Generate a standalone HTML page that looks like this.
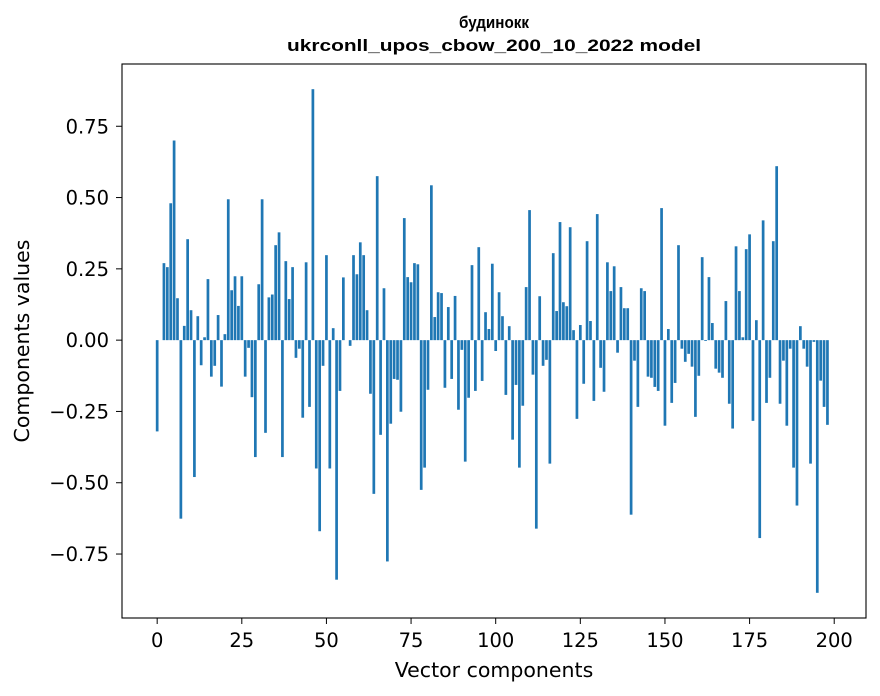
<!DOCTYPE html>
<html><head><meta charset="utf-8"><style>
html,body{margin:0;padding:0;background:#fff;}
svg{display:block;font-family:"DejaVu Sans","Liberation Sans",sans-serif;}
</style></head><body>
<svg id="chart" width="880" height="696" viewBox="0 0 880 696">
<text x="494" y="28" text-anchor="middle" font-family="Liberation Sans, sans-serif" font-weight="bold" font-size="17" textLength="70" lengthAdjust="spacingAndGlyphs">будинокк</text>
<text x="494" y="51" text-anchor="middle" font-family="Liberation Sans, sans-serif" font-weight="bold" font-size="17" textLength="414" lengthAdjust="spacingAndGlyphs">ukrconll_upos_cbow_200_10_2022 model</text>
<g id="bars"></g>
<g id="axes"></g>
<text x="494" y="677" text-anchor="middle" font-size="20.5">Vector components</text>
<text transform="translate(29,341) rotate(-90)" text-anchor="middle" font-size="20.5">Components values</text>
</svg>
<script>
const values1 = [-0.32,0,0.27,0.256,0.48,0.70,0.147,-0.626,0.05,0.354,0.105,-0.48,0.084,-0.088,0.01,0.214,-0.128,-0.09,0.088,-0.163,0.021,0.494,0.175,0.224,0.12,0.224,-0.128,-0.027,-0.2,-0.41,0.196,0.494,-0.325,0.15,0.16,0.333,0.378,-0.41,0.277,0.144,0.256,-0.062,-0.03,-0.272,0.273,-0.234,0.88,-0.45,-0.67,-0.09];
const values2 = [0.298,-0.45,0.042,-0.84,-0.178,0.22,0,-0.02,0.298,0.231,0.343,0.298,0.105,-0.188,-0.539,0.575,-0.332,0.182,-0.776,-0.293,-0.136,-0.139,-0.251,0.428,0.221,0.203,0.27,0.266,-0.525,-0.447,-0.174,0.543,0.081,0.168,0.165,-0.167,0.116,-0.136,0.155,-0.244,-0.034,-0.426,-0.202,0.263,-0.178,0.326,-0.143,0.098,0.039,0.268];
const values3 = [-0.038,0.168,0.084,-0.192,0.049,-0.349,-0.157,-0.447,-0.23,0.186,0.456,-0.121,-0.661,0.154,-0.09,-0.069,-0.433,0.305,0.102,0.414,0.133,0.119,0.396,0.035,-0.276,0.053,-0.153,0.347,0.067,-0.213,0.442,-0.097,-0.181,0.273,0.172,0.259,-0.044,0.186,0.112,0.112,-0.612,-0.072,-0.234,0.182,0.172,-0.128,-0.132,-0.164,-0.178,0.463];
const values4 = [-0.3,0.039,-0.22,-0.15,0.333,-0.03,-0.076,-0.048,-0.093,-0.269,-0.125,0.291,-0.003,0.221,0.06,-0.1,-0.114,-0.132,0.137,-0.223,-0.31,0.329,0.172,0.01,0.319,0.371,-0.283,0.07,-0.694,0.42,-0.22,-0.132,0.347,0.61,-0.223,-0.072,-0.3,-0.03,-0.447,-0.58,0.049,-0.03,-0.093,-0.433,-0.006,-0.886,-0.142,-0.234,-0.297,0];
const values = values1.concat(values2, values3, values4);
const xTicks = [0,25,50,75,100,125,150,175,200];
const yTicks = [-0.75,-0.5,-0.25,0,0.25,0.5,0.75];
const yTickLabels = ["\u22120.75","\u22120.50","\u22120.25","0.00","0.25","0.50","0.75"];

const NS = "http://www.w3.org/2000/svg";
const L = 122, R = 866, T = 64, B = 618;
const n = values.length;
const xmin = -0.4 - (n - 0.2) * 0.05, xmax = n - 0.6 + (n - 0.2) * 0.05;
const vmin = Math.min(0, ...values), vmax = Math.max(0, ...values);
const ymin = vmin - (vmax - vmin) * 0.05, ymax = vmax + (vmax - vmin) * 0.05;
const xs = v => L + (v - xmin) / (xmax - xmin) * (R - L);
const ys = v => B - (v - ymin) / (ymax - ymin) * (B - T);

const bars = document.getElementById('bars');
values.forEach((v, i) => {
  const r = document.createElementNS(NS, 'rect');
  const x0 = xs(i - 0.4), x1 = xs(i + 0.4);
  const y0 = ys(Math.max(v, 0)), y1 = ys(Math.min(v, 0));
  r.setAttribute('x', x0); r.setAttribute('width', x1 - x0);
  r.setAttribute('y', y0); r.setAttribute('height', Math.max(y1 - y0, 0));
  r.setAttribute('fill', '#1f77b4');
  
  
  bars.appendChild(r);
});

const axes = document.getElementById('axes');
const frame = document.createElementNS(NS, 'rect');
frame.setAttribute('x', L); frame.setAttribute('y', T);
frame.setAttribute('width', R - L); frame.setAttribute('height', B - T);
frame.setAttribute('fill', 'none'); frame.setAttribute('stroke', '#000'); frame.setAttribute('stroke-width', '1.1');


axes.appendChild(frame);

xTicks.forEach(t => {
  const x = xs(t);
  const ln = document.createElementNS(NS, 'line');
  ln.setAttribute('x1', x); ln.setAttribute('x2', x); ln.setAttribute('y1', B); ln.setAttribute('y2', B + 6);
  ln.setAttribute('stroke', '#000');
  
  
  axes.appendChild(ln);
  const tx = document.createElementNS(NS, 'text');
  tx.setAttribute('x', x); tx.setAttribute('y', B + 29); tx.setAttribute('text-anchor', 'middle'); tx.setAttribute('font-size', '19.5');
  tx.textContent = String(t);
  
  
  axes.appendChild(tx);
});
yTicks.forEach((t, k) => {
  const y = ys(t);
  const ln = document.createElementNS(NS, 'line');
  ln.setAttribute('x1', L - 6); ln.setAttribute('x2', L); ln.setAttribute('y1', y); ln.setAttribute('y2', y);
  ln.setAttribute('stroke', '#000');
  
  
  axes.appendChild(ln);
  const tx = document.createElementNS(NS, 'text');
  tx.setAttribute('x', L - 13); tx.setAttribute('y', y + 7); tx.setAttribute('text-anchor', 'end'); tx.setAttribute('font-size', '19.5');
  tx.textContent = yTickLabels[k];
  
  
  axes.appendChild(tx);
});
</script>
</body></html>
